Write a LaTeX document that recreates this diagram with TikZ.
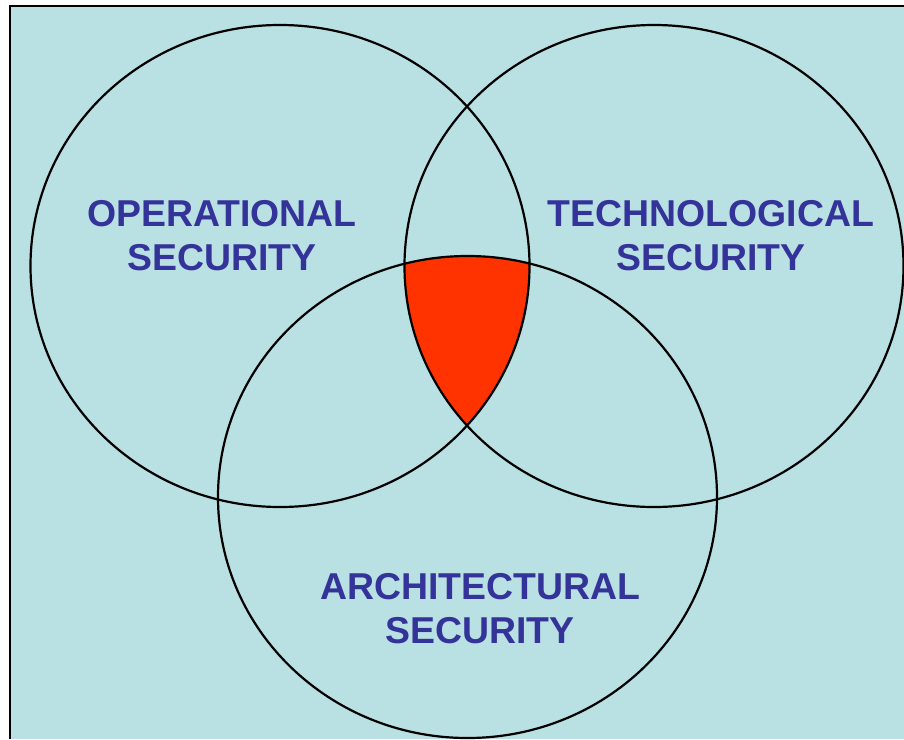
\documentclass[tikz,border=0pt]{standalone}
\usepackage{fontspec}
\setmainfont{Liberation Sans}
\usetikzlibrary{positioning}
\definecolor{paneblue}{RGB}{185,224,227}
\definecolor{labelblue}{RGB}{51,51,153}
\definecolor{corered}{RGB}{255,51,0}

\begin{document}
\begin{tikzpicture}[x=1pt,y=-1pt,
    ring/.style={draw=black,line width=2.2pt},
    area/.style={text=labelblue,font=\bfseries\fontsize{37.4}{44.5}\selectfont,align=center}]
        \useasboundingbox (0,0) rectangle (904,739);
        \fill[paneblue] (10,6) rectangle (904,739);
        \draw[line width=2.4pt] (10,739) -- (10,6) -- (904,6);
        \coordinate (oper-c) at (280,266);
        \coordinate (tech-c) at (654,266);
        \coordinate (arch-c) at (467.5,497);
        \begin{scope}
          \clip (oper-c) ellipse [x radius=249.5pt,y radius=241pt];
          \clip (tech-c) ellipse [x radius=249.5pt,y radius=241pt];
          \fill[corered] (arch-c) ellipse [x radius=249.5pt,y radius=241pt];
        \end{scope}
        \draw[ring] (oper-c) ellipse [x radius=249.5pt,y radius=241pt];
        \draw[ring] (tech-c) ellipse [x radius=249.5pt,y radius=241pt];
        \draw[ring] (arch-c) ellipse [x radius=249.5pt,y radius=241pt];
        \node[area] (oper) at (222,235.5) {OPERATIONAL\\SECURITY};
        \node[area] (tech) at (711,235.5) {TECHNOLOGICAL\\SECURITY};
        \node[area] (arch) at (480,608.5) {ARCHITECTURAL\\SECURITY};
      \end{tikzpicture}
\end{document}
